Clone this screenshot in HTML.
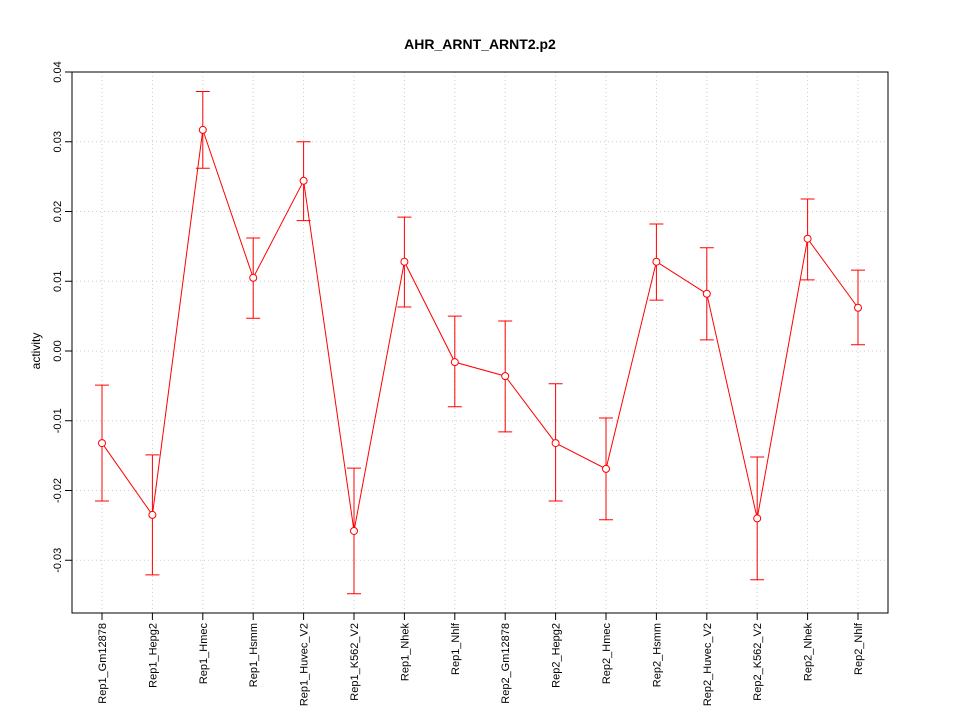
<!DOCTYPE html>
<html><head><meta charset="utf-8"><style>body{margin:0;background:#fff}svg{display:block}text{font-family:"Liberation Sans",sans-serif}</style></head>
<body>
<svg id="chart" width="960" height="720" xmlns="http://www.w3.org/2000/svg">
<text x="480" y="49" text-anchor="middle" font-size="14" font-weight="bold">AHR_ARNT_ARNT2.p2</text>
<text x="0" y="0" transform="translate(40,351) rotate(-90)" text-anchor="middle" font-size="12">activity</text>
<g id="grid"></g><g id="axes"></g><g id="marks"></g>
</svg>
<script>
const categories=["Rep1_Gm12878","Rep1_Hepg2","Rep1_Hmec","Rep1_Hsmm","Rep1_Huvec_V2","Rep1_K562_V2","Rep1_Nhek","Rep1_Nhlf","Rep2_Gm12878","Rep2_Hepg2","Rep2_Hmec","Rep2_Hsmm","Rep2_Huvec_V2","Rep2_K562_V2","Rep2_Nhek","Rep2_Nhlf"];
const values=[-0.0132,-0.0235,0.0317,0.0105,0.0244,-0.0258,0.0128,-0.0016,-0.0036,-0.0132,-0.0169,0.0128,0.0082,-0.0240,0.0161,0.0062];
const upper=[-0.0049,-0.0149,0.0372,0.0162,0.0300,-0.0168,0.0192,0.0050,0.0043,-0.0047,-0.0096,0.0182,0.0148,-0.0152,0.0218,0.0116];
const lower=[-0.0215,-0.0321,0.0262,0.0047,0.0187,-0.0348,0.0063,-0.0080,-0.0116,-0.0215,-0.0242,0.0073,0.0016,-0.0328,0.0102,0.0009];
const yTicks=[-0.03,-0.02,-0.01,0.00,0.01,0.02,0.03,0.04];
const yTickLabels=["-0.03","-0.02","-0.01","0.00","0.01","0.02","0.03","0.04"];
const NS="http://www.w3.org/2000/svg";
const L=72,R=888,T=72,B=613;
const y=v=>351-v*6975;
const x=i=>102+i*(858-102)/(categories.length-1);
function mk(tag,attrs,parent){const e=document.createElementNS(NS,tag);for(const k in attrs)e.setAttribute(k,attrs[k]);document.getElementById(parent).appendChild(e);return e;}
categories.forEach((c,i)=>{const g=mk('line',{x1:x(i),x2:x(i),y1:T,y2:B,stroke:'#ccc','stroke-dasharray':'1,3'},'grid');


const t=mk('line',{x1:x(i),x2:x(i),y1:B,y2:B+7,stroke:'#000'},'axes');


const lb=mk('text',{transform:`translate(${x(i)+4},${B+10}) rotate(-90)`,'text-anchor':'end','font-size':'11'},'axes');lb.textContent=c;

});
yTicks.forEach((v,i)=>{const g=mk('line',{x1:L,x2:R,y1:y(v),y2:y(v),stroke:'#ccc','stroke-dasharray':'1,3'},'grid');


const t=mk('line',{x1:L-7,x2:L,y1:y(v),y2:y(v),stroke:'#000'},'axes');


const lb=mk('text',{transform:`translate(${L-11},${y(v)}) rotate(-90)`,'text-anchor':'middle','font-size':'11'},'axes');lb.textContent=yTickLabels[i];

});
const box=mk('rect',{x:L,y:T,width:R-L,height:B-T,fill:'none',stroke:'#000'},'axes');


const pl=mk('polyline',{points:values.map((v,i)=>x(i)+','+y(v)).join(' '),fill:'none',stroke:'#f00'},'marks');


values.forEach((v,i)=>{const eb=mk('path',{d:`M${x(i)},${y(upper[i])}V${y(lower[i])}M${x(i)-7},${y(upper[i])}h14M${x(i)-7},${y(lower[i])}h14`,stroke:'#f00',fill:'none'},'marks');


const p=mk('circle',{cx:x(i),cy:y(v),r:3.5,fill:'#fff',stroke:'#f00'},'marks');

});
</script>
</body></html>
